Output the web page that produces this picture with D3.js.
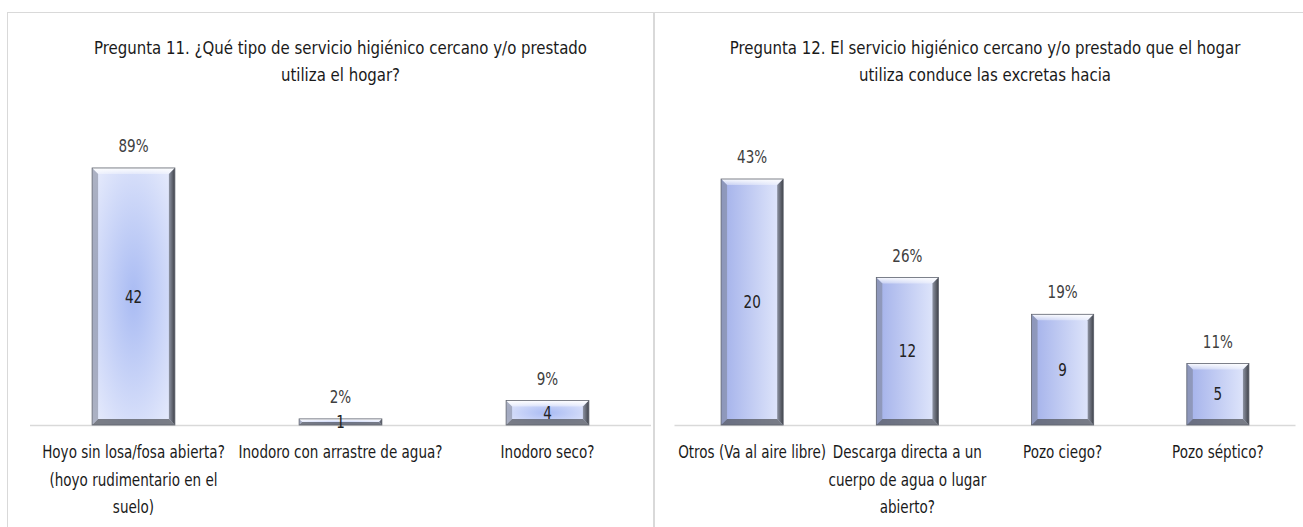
<!DOCTYPE html>
<html>
<head>
<meta charset="utf-8">
<script src="https://cdn.jsdelivr.net/npm/d3@7"></script>
<style>
  html, body { margin: 0; padding: 0; background: #fff; }
  svg { display: block; }
  text { font-family: "Liberation Sans Narrow", "DejaVu Sans Condensed", "Arial Narrow", sans-serif; }
</style>
</head>
<body>
<svg id="chart" width="1303" height="527"></svg>
<script>
// Pregunta 11 — tipo de servicio higiénico
const title11 = ["Pregunta 11. ¿Qué tipo de servicio higiénico cercano y/o prestado", "utiliza el hogar?"];
const categories11 = ["Hoyo sin losa/fosa abierta?\n(hoyo rudimentario en el\nsuelo)", "Inodoro con arrastre de agua?", "Inodoro seco?"];
const values11 = [42, 1, 4];
const percents11 = [89, 2, 9];

// Pregunta 12 — destino de las excretas
const title12 = ["Pregunta 12. El servicio higiénico cercano y/o prestado que el hogar", "utiliza conduce las excretas hacia"];
const categories12 = ["Otros (Va al aire libre)", "Descarga directa a un\ncuerpo de agua o lugar\nabierto?", "Pozo ciego?", "Pozo séptico?"];
const values12 = [20, 12, 9, 5];
const percents12 = [43, 26, 19, 11];

const svg = d3.select("#chart");
const defs = svg.append("defs");

// Bar fills: radial glow for the first chart, left-to-right shade for the second
const rad = defs.append("radialGradient").attr("id", "fillRadial")
  .attr("cx", "50%").attr("cy", "50%").attr("r", "75%");
rad.append("stop").attr("offset", "0%").attr("stop-color", "#a9bbf3");
rad.append("stop").attr("offset", "100%").attr("stop-color", "#eef1fd");

const lin = defs.append("linearGradient").attr("id", "fillLinear")
  .attr("x1", "0%").attr("x2", "100%").attr("y1", "0%").attr("y2", "0%");
lin.append("stop").attr("offset", "0%").attr("stop-color", "#a2b0ea");
lin.append("stop").attr("offset", "100%").attr("stop-color", "#e3e9fc");

const topB = defs.append("linearGradient").attr("id", "bevelTop")
  .attr("x1", "0").attr("x2", "0").attr("y1", "0").attr("y2", "1");
topB.append("stop").attr("offset", "0%").attr("stop-color", "#ffffff").attr("stop-opacity", 0.95);
topB.append("stop").attr("offset", "100%").attr("stop-color", "#ffffff").attr("stop-opacity", 0.35);

const rightB = defs.append("linearGradient").attr("id", "bevelRight")
  .attr("x1", "0").attr("x2", "1").attr("y1", "0").attr("y2", "0");
rightB.append("stop").attr("offset", "0%").attr("stop-color", "#8d93a3");
rightB.append("stop").attr("offset", "100%").attr("stop-color", "#3f4249");

// Panel frames
svg.append("rect").attr("x", 7.5).attr("y", 12.5).attr("width", 646).attr("height", 530)
  .attr("fill", "none").attr("stroke", "#d9d9d9");
svg.append("rect").attr("x", 654.5).attr("y", 12.5).attr("width", 660).attr("height", 530)
  .attr("fill", "none").attr("stroke", "#d9d9d9");

// Narrow, tall lettering: a larger font squeezed horizontally around its anchor
function label(g, x, y, lines, size, sx, color, lineGap) {
  const t = g.append("g").attr("transform", `translate(${x},${y}) scale(${sx},1)`)
    .append("text").attr("text-anchor", "middle").attr("font-size", size).attr("fill", color);
  t.selectAll("tspan").data(lines).join("tspan")
    .attr("x", 0).attr("dy", (d, i) => i === 0 ? "0.35em" : lineGap).text(d => d);
  return t;
}

function bevelBar(g, x, y, w, h, fill) {
  const b = Math.min(6, h / 2, w / 2);
  const bar = g.append("g");
  bar.append("rect").attr("x", x).attr("y", y).attr("width", w).attr("height", h).attr("fill", fill);
  const poly = pts => pts.map(p => p.join(",")).join(" ");
  bar.append("polygon").attr("points", poly([[x, y], [x + w, y], [x + w - b, y + b], [x + b, y + b]]))
    .attr("fill", "url(#bevelTop)");
  bar.append("polygon").attr("points", poly([[x, y], [x + b, y + b], [x + b, y + h - b], [x, y + h]]))
    .attr("fill", "#7c8294").attr("opacity", 0.55);
  bar.append("polygon").attr("points", poly([[x + w, y], [x + w, y + h], [x + w - b, y + h - b], [x + w - b, y + b]]))
    .attr("fill", "url(#bevelRight)");
  bar.append("polygon").attr("points", poly([[x, y + h], [x + w, y + h], [x + w - b, y + h - b], [x + b, y + h - b]]))
    .attr("fill", "#55585f").attr("opacity", 0.75);
  bar.append("rect").attr("x", x).attr("y", y).attr("width", w).attr("height", h)
    .attr("fill", "none").attr("stroke", "#60646e").attr("stroke-width", 0.8);
}

function drawChart(opts) {
  const { title, categories, values, percents, xRange, yMax, yTop, fill } = opts;
  const baseY = 425;
  const x = d3.scaleBand().domain(categories).range(xRange).paddingInner(0.6).paddingOuter(0.3);
  const y = d3.scaleLinear().domain([0, yMax]).range([baseY, yTop]);
  const g = svg.append("g");
  const cx = (xRange[0] + xRange[1]) / 2;

  // Title
  label(g, cx, 48, title, 18.5, 0.9, "#1a1a1a", 27);

  // Category axis line
  g.append("line").attr("x1", xRange[0]).attr("x2", xRange[1]).attr("y1", baseY + 0.5).attr("y2", baseY + 0.5)
    .attr("stroke", "#d9d9d9").attr("stroke-width", 1.5);

  categories.forEach((c, i) => {
    const bx = x(c), bw = x.bandwidth();
    const top = y(values[i]);
    bevelBar(g, bx, top, bw, baseY - top, fill);
    const mid = bx + bw / 2;
    // Percentage above the bar
    label(g, mid, top - 22, [percents[i] + "%"], 17.5, 0.86, "#404040", 0);
    // Count in the middle of the bar
    label(g, mid, (top + baseY) / 2, [String(values[i])], 17.5, 0.86, "#222", 0);
    // Category label below the axis
    label(g, mid, 452, c.split("\n"), 17.5, 0.86, "#1a1a1a", 27.5);
  });
}

drawChart({ title: title11, categories: categories11, values: values11, percents: percents11,
  xRange: [30, 651], yMax: 45, yTop: 149.6, fill: "url(#fillRadial)" });
drawChart({ title: title12, categories: categories12, values: values12, percents: percents12,
  xRange: [674.5, 1295.5], yMax: 25, yTop: 117.5, fill: "url(#fillLinear)" });
</script>
</body>
</html>
